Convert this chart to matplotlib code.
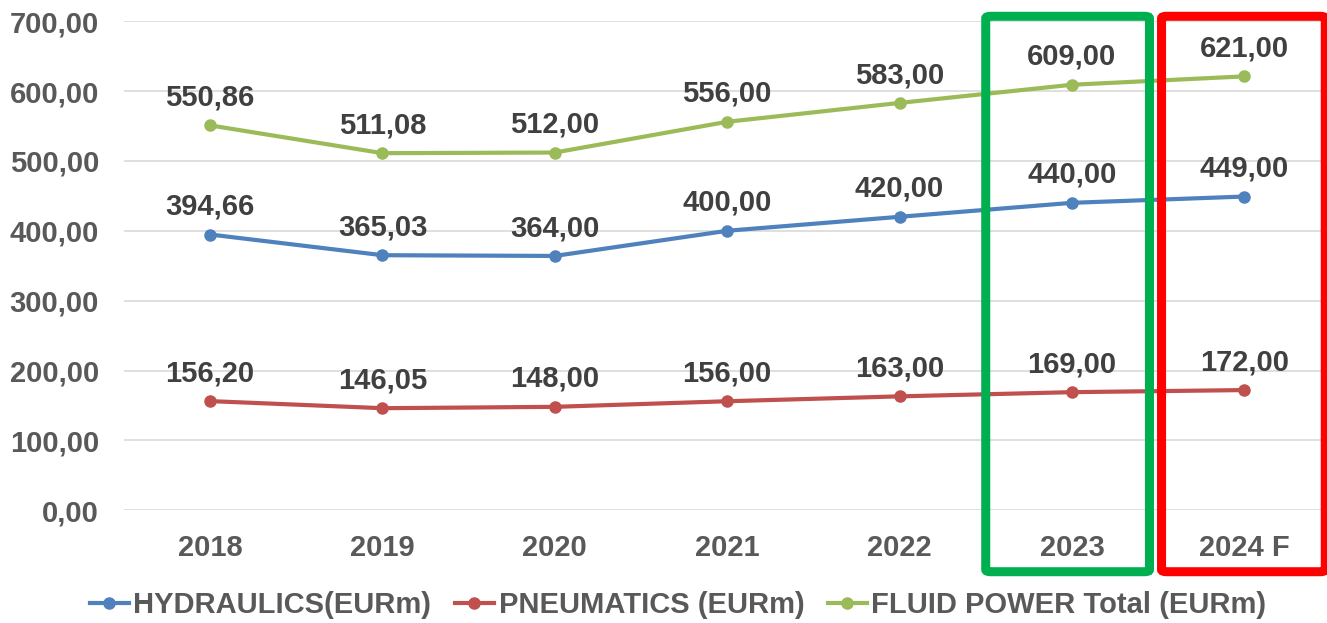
import matplotlib.pyplot as plt
from matplotlib.patches import FancyBboxPatch
from matplotlib.ticker import FuncFormatter

years = ['2018', '2019', '2020', '2021', '2022', '2023', '2024 F']
hydraulics = [394.66, 365.03, 364.00, 400.00, 420.00, 440.00, 449.00]
pneumatics = [156.20, 146.05, 148.00, 156.00, 163.00, 169.00, 172.00]
fluid_power = [550.86, 511.08, 512.00, 556.00, 583.00, 609.00, 621.00]

series = [
    ('HYDRAULICS(EURm)', hydraulics, '#4F81BD'),
    ('PNEUMATICS (EURm)', pneumatics, '#C0504D'),
    ('FLUID POWER Total (EURm)', fluid_power, '#9BBB59'),
]

plt.rcParams['font.family'] = ['Liberation Sans', 'DejaVu Sans']


def fmt(v):
    return f'{v:.2f}'.replace('.', ',')


fig = plt.figure(figsize=(13.27, 6.23), dpi=100)
ax = fig.add_axes([0.0934, 0.181, 0.9066, 0.785])

x = list(range(len(years)))
for label, vals, color in series:
    ax.plot(x, vals, color=color, linewidth=3, marker='o', markersize=8, label=label, zorder=3)
    for xi, v in zip(x, vals):
        ax.annotate(fmt(v), (xi, v), xytext=(0, 10), textcoords='offset points',
                    ha='center', va='bottom', fontsize=21, fontweight='bold', color='#404040')

ax.set_xlim(-0.5, 6.48)
ax.set_ylim(0, 700)
ax.set_yticks(range(0, 701, 100))
ax.yaxis.set_major_formatter(FuncFormatter(lambda v, p: fmt(v)))
ax.set_xticks(x)
ax.set_xticklabels(years)
for t in ax.get_yticklabels() + ax.get_xticklabels():
    t.set_fontsize(21)
    t.set_fontweight('bold')
    t.set_color('#595959')
ax.tick_params(axis='both', length=0)
ax.tick_params(axis='y', pad=18)
ax.tick_params(axis='x', pad=17)
ax.grid(axis='y', color='#D9D9D9', linewidth=1.2)
ax.set_axisbelow(True)
for s in ax.spines.values():
    s.set_visible(False)

# highlight boxes for 2023 and 2024 F
for x0, x1, col in [(4.5, 5.45, '#00B050'), (5.52, 6.47, '#FF0000')]:
    box = FancyBboxPatch((x0, -88), x1 - x0, 795, boxstyle='round,pad=0,rounding_size=0.03',
                         fill=False, edgecolor=col, linewidth=6.5, clip_on=False, zorder=4,
                         mutation_aspect=100)
    ax.add_patch(box)

leg = fig.legend(loc='center', bbox_to_anchor=(0.511, 18 / 623), ncol=3, frameon=False,
                 handlelength=1.35, columnspacing=0.8, handletextpad=0.15,
                 prop={'size': 21, 'weight': 'bold'})
for t in leg.get_texts():
    t.set_color('#595959')

fig.savefig('out.png', dpi=100)
